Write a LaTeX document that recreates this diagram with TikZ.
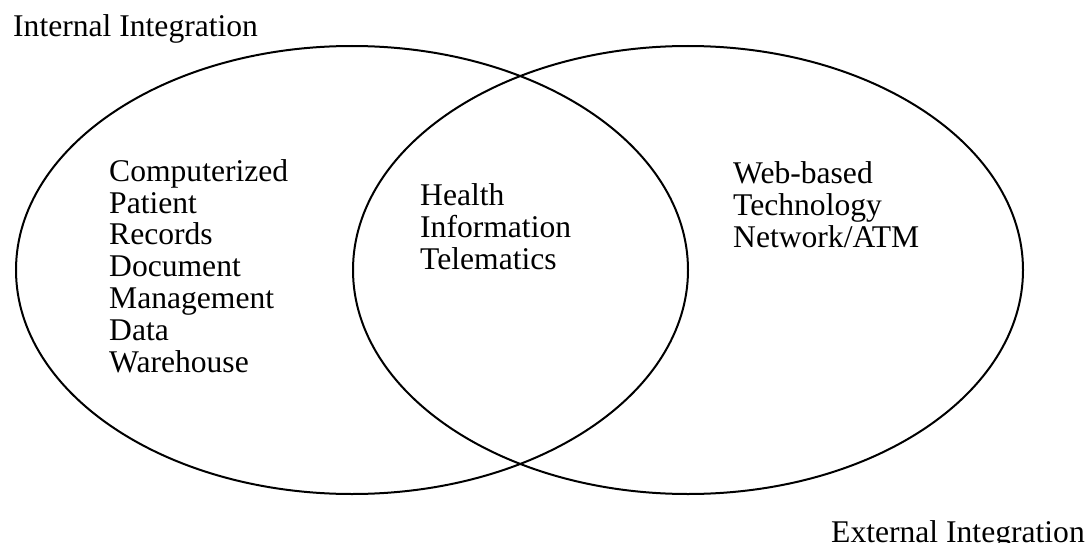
\documentclass[tikz,border=0pt]{standalone}
\usepackage{fontspec}
\setmainfont{Liberation Serif}
\usetikzlibrary{shapes.geometric}
\tikzset{
  set/.style={ellipse, draw, line width=2pt, inner sep=0pt, minimum width=#1},
  lbl/.style={anchor=base west, inner sep=0pt, align=left,
    font=\fontsize{31.6}{31.8}\selectfont}
}
\begin{document}
\begin{tikzpicture}[x=1pt,y=-1pt]
\useasboundingbox (0,0) rectangle (1090,543);
\node[set=672pt, minimum height=448pt] (internal) at (352,270) {};
\node[set=670pt, minimum height=448pt] (external) at (688,270) {};
\node[lbl] (tint) at (13,37) {Internal Integration};
\node[lbl] (text) at (831,542) {External Integration};
% base anchor of a multi-line node sits on its last line
\node[lbl] (left) at (109,372) {Computerized\\Patient\\Records\\Document\\Management\\Data\\Warehouse};
\node[lbl] (mid) at (420,269) {Health\\Information\\Telematics};
\node[lbl] (right) at (733,247) {Web-based\\Technology\\Network/ATM};
\end{tikzpicture}
\end{document}
